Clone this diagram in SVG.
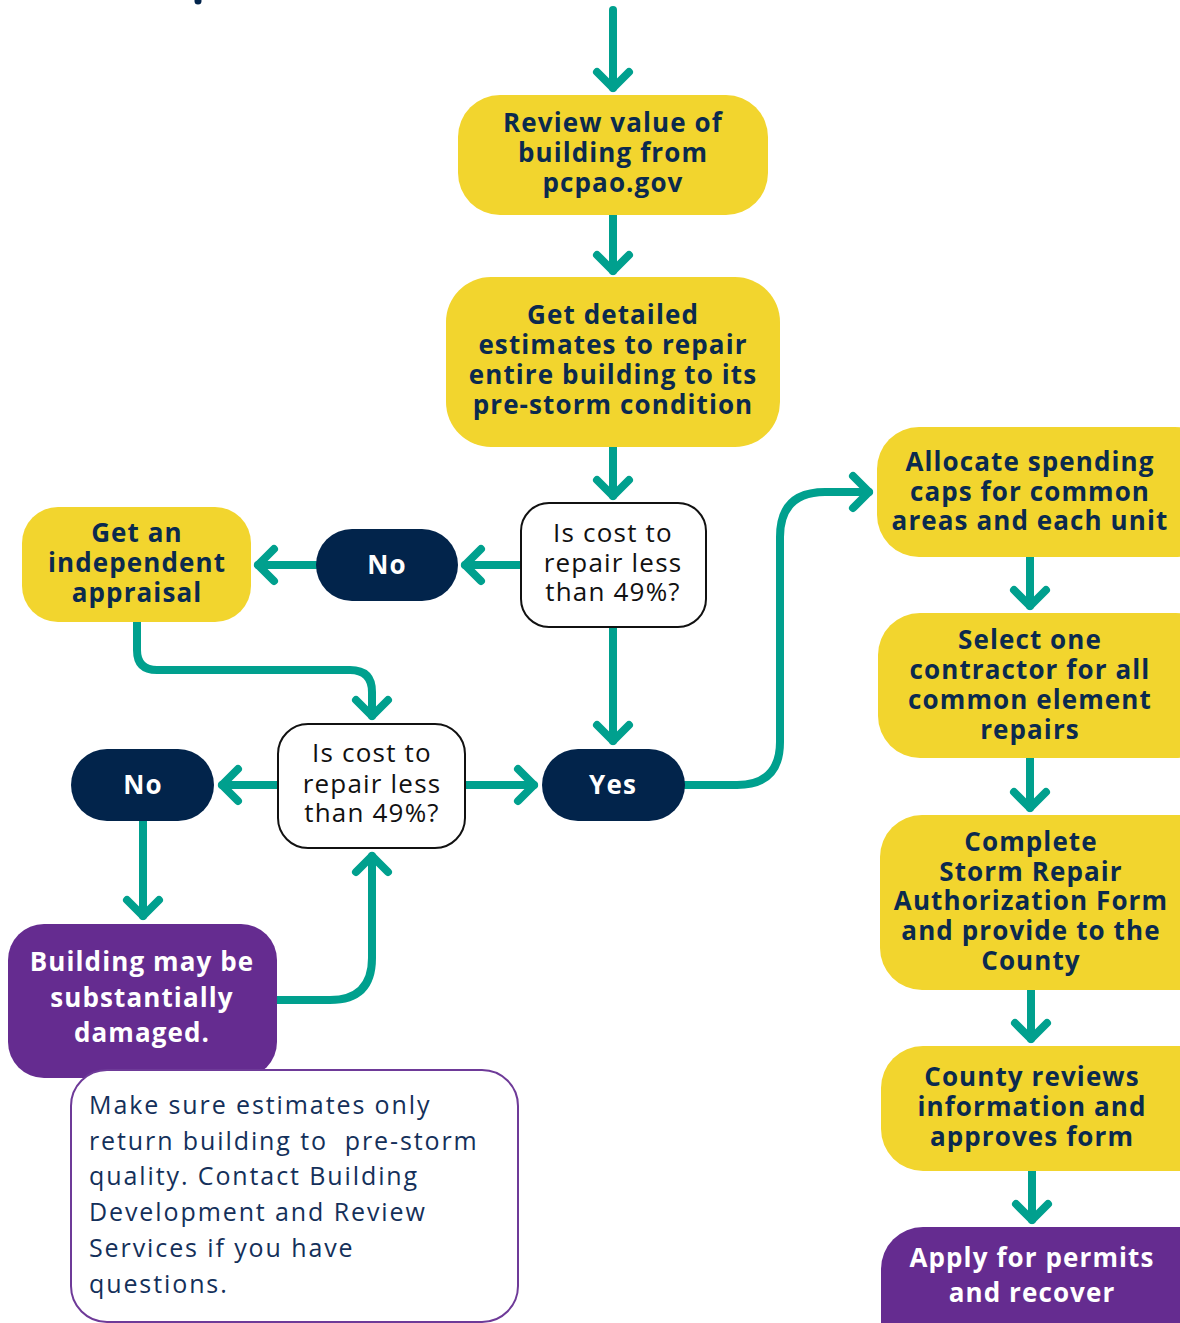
<svg xmlns="http://www.w3.org/2000/svg" width="1180" height="1323" viewBox="0 0 1180 1323">
<defs>
<style>
.y{fill:#F2D52E}
.nv{fill:#02244B}
.pu{fill:#652C90}
.dec{fill:#FFFFFF;stroke:#111111;stroke-width:2}
.note{fill:#FFFFFF;stroke:#6E3A98;stroke-width:2}
.hb{font-family:"Open Sans","Liberation Sans",sans-serif;font-weight:700;font-size:26px;fill:#0B2A4E;text-anchor:middle;letter-spacing:1.1px}
.hw{font-family:"Open Sans","Liberation Sans",sans-serif;font-weight:700;font-size:26px;fill:#FFFFFF;text-anchor:middle;letter-spacing:1.1px}
.dt{font-family:"Open Sans","Liberation Sans",sans-serif;font-weight:400;font-size:26px;fill:#111111;text-anchor:middle;letter-spacing:1.2px}
.nt{font-family:"Open Sans","Liberation Sans",sans-serif;font-weight:400;font-size:25px;fill:#14305A;letter-spacing:1.9px}
.c{fill:none;stroke:#00A08E;stroke-width:8;stroke-linecap:round;stroke-linejoin:round}
</style>
<marker id="ah" markerUnits="userSpaceOnUse" markerWidth="40" markerHeight="40" refX="0" refY="0" orient="auto" overflow="visible">
<path d="M-16,-16 L0,0 L-16,16" fill="none" stroke="#00A08E" stroke-width="8" stroke-linecap="round" stroke-linejoin="round"/>
</marker>
</defs>
<rect width="1180" height="1323" fill="#FFFFFF"/>
<circle cx="198" cy="1" r="3.5" fill="#02244B"/>

<g id="connectors">
<path class="c" marker-end="url(#ah)" d="M613,10 L613,88"/>
<path class="c" marker-end="url(#ah)" d="M613,215 L613,271"/>
<path class="c" marker-end="url(#ah)" d="M613,447 L613,496"/>
<path class="c" marker-end="url(#ah)" d="M521,565 L465,565"/>
<path class="c" marker-end="url(#ah)" d="M316,565 L258,565"/>
<path class="c" marker-end="url(#ah)" d="M137,622 L137,650 Q137,670 157,670 L350,670 Q372,670 372,692 L372,716"/>
<path class="c" marker-end="url(#ah)" d="M613,627 L613,741"/>
<path class="c" marker-end="url(#ah)" d="M278,785 L222,785"/>
<path class="c" marker-end="url(#ah)" d="M465,785 L534,785"/>
<path class="c" marker-end="url(#ah)" d="M143,821 L143,916"/>
<path class="c" marker-end="url(#ah)" d="M277,1000 L330,1000 Q372,1000 372,958 L372,856"/>
<path class="c" marker-end="url(#ah)" d="M685,785 L737,785 Q780,785 780,742 L780,537 Q780,492 825,492 L869,492"/>
<path class="c" marker-end="url(#ah)" d="M1030,557 L1030,606"/>
<path class="c" marker-end="url(#ah)" d="M1030,758 L1030,808"/>
<path class="c" marker-end="url(#ah)" d="M1031,990 L1031,1039"/>
<path class="c" marker-end="url(#ah)" d="M1032,1171 L1032,1220"/>
</g>

<g id="review">
<rect class="y" x="458" y="95" width="310" height="120" rx="42"/>
<text class="hb" x="613" y="132">Review value of</text>
<text class="hb" x="613" y="162">building from</text>
<text class="hb" x="613" y="192">pcpao.gov</text>
</g>

<g id="estimates">
<rect class="y" x="446" y="277" width="334" height="170" rx="45"/>
<text class="hb" x="613" y="324">Get detailed</text>
<text class="hb" x="613" y="354">estimates to repair</text>
<text class="hb" x="613" y="384">entire building to its</text>
<text class="hb" x="613" y="414">pre-storm condition</text>
</g>

<g id="decision1">
<rect class="dec" x="521" y="503" width="185" height="124" rx="28"/>
<text class="dt" x="613" y="542">Is cost to</text>
<text class="dt" x="613" y="572">repair less</text>
<text class="dt" x="613" y="601">than 49%?</text>
</g>

<g id="no1">
<rect class="nv" x="316" y="529" width="142" height="72" rx="36"/>
<text class="hw" x="387" y="574">No</text>
</g>

<g id="appraisal">
<rect class="y" x="22" y="507" width="229" height="115" rx="36"/>
<text class="hb" x="137" y="542">Get an</text>
<text class="hb" x="137" y="572">independent</text>
<text class="hb" x="137" y="602">appraisal</text>
</g>

<g id="decision2">
<rect class="dec" x="278" y="724" width="187" height="124" rx="30"/>
<text class="dt" x="372" y="762">Is cost to</text>
<text class="dt" x="372" y="793">repair less</text>
<text class="dt" x="372" y="822">than 49%?</text>
</g>

<g id="no2">
<rect class="nv" x="71" y="749" width="143" height="72" rx="36"/>
<text class="hw" x="143" y="794">No</text>
</g>

<g id="yes">
<rect class="nv" x="542" y="749" width="143" height="72" rx="36"/>
<text class="hw" x="613" y="794">Yes</text>
</g>

<g id="damaged">
<rect class="pu" x="8" y="924" width="269" height="154" rx="36"/>
<text class="hw" x="142" y="971">Building may be</text>
<text class="hw" x="142" y="1007">substantially</text>
<text class="hw" x="142" y="1042">damaged.</text>
</g>

<g id="note">
<rect class="note" x="71" y="1070" width="447" height="252" rx="36"/>
<text class="nt" x="89" y="1114">Make sure estimates only</text>
<text class="nt" x="89" y="1150" xml:space="preserve">return building to  pre-storm</text>
<text class="nt" x="89" y="1185">quality. Contact Building</text>
<text class="nt" x="89" y="1221">Development and Review</text>
<text class="nt" x="89" y="1257">Services if you have</text>
<text class="nt" x="89" y="1293">questions.</text>
</g>

<g id="allocate">
<rect class="y" x="877" y="427" width="340" height="130" rx="42"/>
<text class="hb" x="1030" y="471">Allocate spending</text>
<text class="hb" x="1030" y="501">caps for common</text>
<text class="hb" x="1030" y="530">areas and each unit</text>
</g>

<g id="select">
<rect class="y" x="878" y="613" width="340" height="145" rx="42"/>
<text class="hb" x="1030" y="649">Select one</text>
<text class="hb" x="1030" y="679">contractor for all</text>
<text class="hb" x="1030" y="709">common element</text>
<text class="hb" x="1030" y="739">repairs</text>
</g>

<g id="complete">
<rect class="y" x="880" y="815" width="340" height="175" rx="42"/>
<text class="hb" x="1031" y="851">Complete</text>
<text class="hb" x="1031" y="881">Storm Repair</text>
<text class="hb" x="1031" y="910">Authorization Form</text>
<text class="hb" x="1031" y="940">and provide to the</text>
<text class="hb" x="1031" y="970">County</text>
</g>

<g id="county">
<rect class="y" x="881" y="1046" width="340" height="125" rx="42"/>
<text class="hb" x="1032" y="1086">County reviews</text>
<text class="hb" x="1032" y="1116">information and</text>
<text class="hb" x="1032" y="1146">approves form</text>
</g>

<g id="apply">
<rect class="pu" x="881" y="1227" width="340" height="140" rx="42"/>
<text class="hw" x="1032" y="1267">Apply for permits</text>
<text class="hw" x="1032" y="1302">and recover</text>
</g>
</svg>
